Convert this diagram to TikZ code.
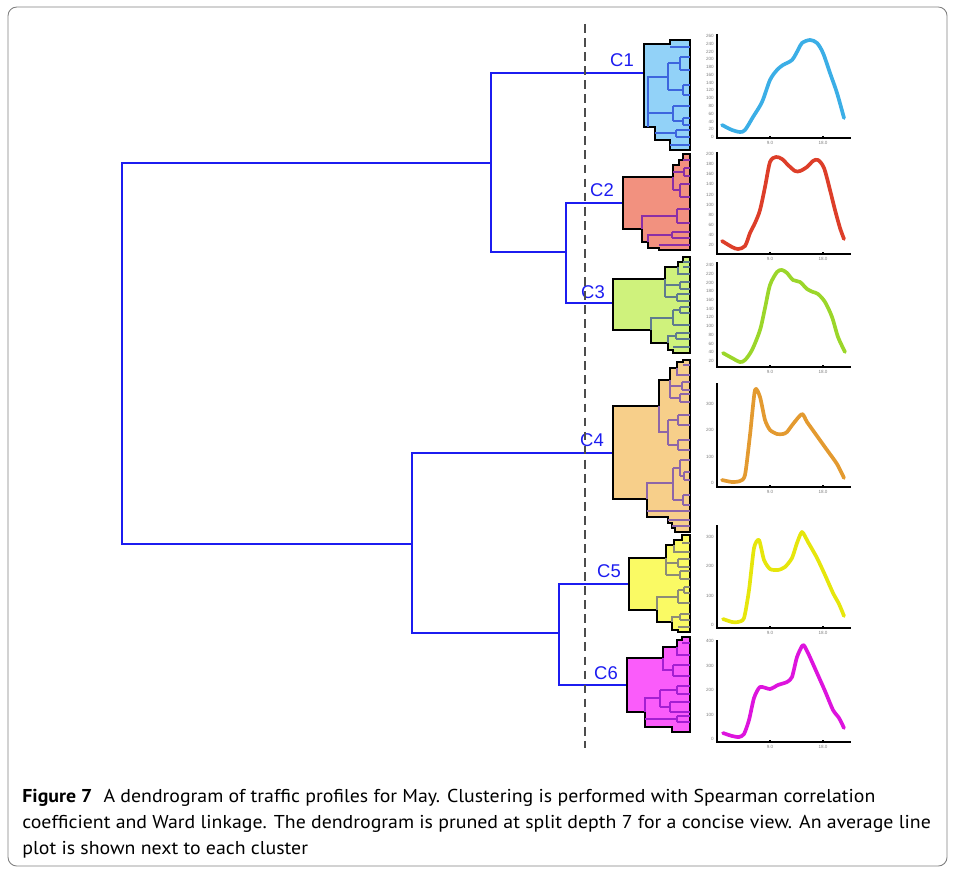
\documentclass[tikz,border=0pt]{standalone}
\usepackage{fontspec}
\newfontfamily\capfont[FakeStretch=1.065]{PT Sans}
\newfontfamily\labfont{Liberation Sans}
\definecolor{dgblue}{HTML}{1C1CF0}
\definecolor{c1fill}{HTML}{92D2F8}\definecolor{c1in}{HTML}{3D66DE}\definecolor{c1line}{HTML}{3BAEE6}
\definecolor{c2fill}{HTML}{F2917F}\definecolor{c2in}{HTML}{8B2FA6}\definecolor{c2line}{HTML}{DD3E29}
\definecolor{c3fill}{HTML}{CFF27C}\definecolor{c3in}{HTML}{5F7C8E}\definecolor{c3line}{HTML}{9BD62A}
\definecolor{c4fill}{HTML}{F7CF8A}\definecolor{c4in}{HTML}{8E66A8}\definecolor{c4line}{HTML}{E39A30}
\definecolor{c5fill}{HTML}{FAFA64}\definecolor{c5in}{HTML}{8D8C77}\definecolor{c5line}{HTML}{E6E60C}
\definecolor{c6fill}{HTML}{FA5CFA}\definecolor{c6in}{HTML}{A41FD2}\definecolor{c6line}{HTML}{DD14DD}

\begin{document}
\begin{tikzpicture}[
        x=0.02cm, y=-0.02cm,
        link/.style={draw=dgblue, line width=0.9pt},
        outline/.style={draw=black, line width=1.3pt, line join=miter},
        inner/.style={line width=0.7pt},
        curve/.style={line width=2.1pt, line cap=round, line join=round},
        axis/.style={line width=0.6pt},
        ytick/.style={font=\labfont\fontsize{2.6}{3}\selectfont, text=gray, anchor=east, inner sep=0.5pt},
        xtick/.style={font=\labfont\fontsize{2.6}{3}\selectfont, text=gray, anchor=north, inner sep=0.5pt},
        clab/.style={font=\labfont\fontsize{10.5}{12}\selectfont, text=dgblue, inner sep=0pt},
        caption/.style={font=\capfont\fontsize{10.6}{12}\selectfont, anchor=base west, inner sep=0pt}
      ]
        % 画布与外框
        \useasboundingbox (0,0) rectangle (955,871);
        \draw[gray, line width=0.5pt, rounded corners=5pt] (8,7) rectangle (947,866);
        % 各簇的连接点
        \coordinate (c1) at (643,73);
        \coordinate (c2) at (623,203);
        \coordinate (c3) at (613,303);
        \coordinate (c4) at (613,453);
        \coordinate (c5) at (629,584);
        \coordinate (c6) at (626,685);
        % 合并点
        \coordinate (k23) at (566,252);
        \coordinate (k1) at (491,163);
        \coordinate (k56) at (559,633);
        \coordinate (k4) at (412,544);
        \coordinate (k0) at (122,350);
        % 主树状图
        \draw[link] (c2) -| (k23) |- (c3);
        \draw[link] (c1) -| (k1) |- (k23);
        \draw[link] (c5) -| (k56) |- (c6);
        \draw[link] (c4) -| (k4) |- (k56);
        \draw[link] (k1) -| (k0) |- (k4);
        % 簇 C1
        \draw[outline, fill=c1fill] (690,40) -- (670,40) -- (670,44) -- (644,44) -- (644,127) -- (655,127)
          -- (655,140) -- (670,140) -- (670,150) -- (690,150) -- cycle;
        \draw[inner, c1in] (648,127) -- (648,77) -- (668,77) (668,63) -- (668,90)
          (668,63) -- (680,63) (680,57) -- (680,70) (680,57) -- (690,57) (680,70) -- (690,70)
          (668,90) -- (683,90) (683,85) -- (683,95) (683,85) -- (690,85) (683,95) -- (690,95)
          (670,47) -- (690,47) (648,113) -- (673,113) (673,106) -- (673,121) (673,106) -- (690,106)
          (673,121) -- (683,121) (683,118) -- (683,125) (683,118) -- (690,118) (683,125) -- (690,125)
          (655,133) -- (676,133) (676,130) -- (676,137) (676,130) -- (690,130) (676,137) -- (690,137)
          (670,145) -- (690,145);
        % 簇 C2
        \draw[outline, fill=c2fill] (690,154) -- (683,154) -- (683,160) -- (679,160) -- (679,165) -- (673,165)
          -- (673,177) -- (623,177) -- (623,229) -- (642,229) -- (642,242) -- (648,242) -- (648,248)
          -- (659,248) -- (659,250) -- (690,250) -- cycle;
        \draw[inner, c2in] (673,177) -- (673,190)
          (673,172) -- (684,172) (684,168) -- (684,176) (684,168) -- (690,168) (684,176) -- (690,176)
          (673,190) -- (680,190) (680,184) -- (680,197) (680,184) -- (690,184) (680,197) -- (690,197)
          (642,229) -- (642,216) -- (677,216) (677,209) -- (677,223) (677,209) -- (690,209) (677,223) -- (690,223)
          (648,242) -- (648,235) -- (672,235) (672,232) -- (672,238) (672,232) -- (690,232) (672,238) -- (690,238)
          (659,245) -- (690,245) (683,160) -- (690,160);
        % 簇 C3
        \draw[outline, fill=c3fill] (690,257) -- (683,257) -- (683,262) -- (678,262) -- (678,267) -- (665,267)
          -- (665,279) -- (613,279) -- (613,330) -- (651,330) -- (651,343) -- (668,343) -- (668,350)
          -- (673,350) -- (673,353) -- (690,353) -- cycle;
        \draw[inner, c3in] (665,279) -- (665,297)
          (665,285) -- (680,285) (680,282) -- (680,289) (680,282) -- (690,282) (680,289) -- (690,289)
          (665,297) -- (677,297) (677,294) -- (677,301) (677,294) -- (690,294) (677,301) -- (690,301)
          (678,267) -- (678,274) -- (690,274) (683,262) -- (690,262) (683,267) -- (690,267)
          (651,330) -- (651,318) -- (673,318) (673,310) -- (673,325) (673,310) -- (680,310)
          (680,307) -- (680,313) (680,307) -- (690,307) (680,313) -- (690,313) (673,325) -- (690,325)
          (668,343) -- (668,336) -- (676,336) (676,333) -- (676,339) (676,333) -- (690,333) (676,339) -- (690,339)
          (673,347) -- (690,347);
        % 簇 C4
        \draw[outline, fill=c4fill] (690,360) -- (683,360) -- (683,362) -- (677,362) -- (677,368) -- (670,368)
          -- (670,380) -- (659,380) -- (659,406) -- (613,406) -- (613,499) -- (647,499) -- (647,517)
          -- (668,517) -- (668,523) -- (672,523) -- (672,528) -- (675,528) -- (675,532) -- (690,532) -- cycle;
        \draw[inner, c4in] (670,380) -- (670,398)
          (670,386) -- (682,386) (682,382) -- (682,390) (682,382) -- (690,382) (682,390) -- (690,390)
          (670,398) -- (680,398) (680,394) -- (680,402) (680,394) -- (690,394) (680,402) -- (690,402)
          (677,368) -- (677,375) -- (690,375) (683,365) -- (690,365)
          (659,406) -- (659,432) -- (668,432) (668,420) -- (668,445)
          (668,420) -- (678,420) (678,415) -- (678,425) (678,415) -- (690,415) (678,425) -- (690,425)
          (668,445) -- (678,445) (678,440) -- (678,450) (678,440) -- (690,440) (678,450) -- (690,450)
          (647,499) -- (647,483) -- (673,483) (673,468) -- (673,500)
          (673,468) -- (680,468) (680,460) -- (680,476) (680,460) -- (690,460) (680,476) -- (684,476)
          (684,472) -- (684,480) (684,472) -- (690,472) (684,480) -- (690,480)
          (673,500) -- (683,500) (683,495) -- (683,505) (683,495) -- (690,495) (683,505) -- (690,505)
          (647,511) -- (690,511) (668,520) -- (690,520) (672,526) -- (690,526);
        % 簇 C5
        \draw[outline, fill=c5fill] (690,535) -- (682,535) -- (682,540) -- (674,540) -- (674,545) -- (666,545)
          -- (666,558) -- (629,558) -- (629,610) -- (657,610) -- (657,622) -- (672,622) -- (672,630)
          -- (678,630) -- (678,632) -- (690,632) -- cycle;
        \draw[inner, c5in] (666,558) -- (666,575)
          (666,563) -- (678,563) (678,559) -- (678,567) (678,559) -- (690,559) (678,567) -- (690,567)
          (666,575) -- (680,575) (680,571) -- (680,579) (680,571) -- (690,571) (680,579) -- (690,579)
          (674,545) -- (674,552) -- (690,552) (682,543) -- (690,543)
          (657,610) -- (657,597) -- (678,597) (678,590) -- (678,603) (678,590) -- (684,590)
          (684,587) -- (684,593) (684,587) -- (690,587) (684,593) -- (690,593) (678,603) -- (690,603)
          (672,622) -- (672,617) -- (680,617) (680,614) -- (680,620) (680,614) -- (690,614) (680,620) -- (690,620)
          (678,627) -- (690,627);
        % 簇 C6
        \draw[outline, fill=c6fill] (690,637) -- (682,637) -- (682,640) -- (677,640) -- (677,647) -- (663,647)
          -- (663,658) -- (627,658) -- (627,712) -- (645,712) -- (645,727) -- (672,727) -- (672,732)
          -- (690,732) -- cycle;
        \draw[inner, c6in] (663,658) -- (663,670) -- (673,670) (673,665) -- (673,676)
          (673,665) -- (690,665) (673,676) -- (690,676)
          (677,647) -- (677,655) -- (690,655) (682,643) -- (690,643)
          (645,712) -- (645,698) -- (660,698) (660,690) -- (660,707)
          (660,690) -- (677,690) (677,686) -- (677,694) (677,686) -- (690,686) (677,694) -- (690,694)
          (660,707) -- (670,707) (670,702) -- (670,712) (670,702) -- (690,702) (670,712) -- (690,712)
          (645,719) -- (677,719) (677,716) -- (677,722) (677,716) -- (690,716) (677,722) -- (690,722);
        % 簇标签
        \node[clab] (lc1) at (622,60) {C1};
        \node[clab] (lc2) at (602,190) {C2};
        \node[clab] (lc3) at (593,292) {C3};
        \node[clab] (lc4) at (592,440) {C4};
        \node[clab] (lc5) at (609,571) {C5};
        \node[clab] (lc6) at (606,673) {C6};
        % 截断虚线
        \coordinate (cutA) at (585,24);
        \coordinate (cutB) at (585,748);
        \draw[black!70, line width=0.9pt, dash pattern=on 5pt off 3pt] (cutA) -- (cutB);
        % C1 平均曲线
        \draw[axis] (717,34) -- (717,138) -- (851,138) (770,136) -- (770,138) (823,136) -- (823,138);
        \foreach \v [count=\i from 0] in {0,20,...,260}
          \node[ytick] (ya-\i) at (715,{137-7.77*\i}) {\v};
        \node[xtick] (xa-1) at (770,140) {9.0};
        \node[xtick] (xa-2) at (823,140) {18.0};
        \draw[curve, c1line] plot[smooth, tension=0.5] coordinates {(722,125) (732,130) (740,132) (745,130)
          (753,117) (762,102) (770,80) (777,70) (783,65) (792,60) (798,50) (802,43) (810,40) (817,43)
          (823,53) (830,73) (837,93) (844,118)};
        % C2 平均曲线
        \draw[axis] (717,152) -- (717,254) -- (851,254) (770,252) -- (770,254) (823,252) -- (823,254);
        \foreach \v [count=\i from 0] in {20,40,...,200}
          \node[ytick] (yb-\i) at (715,{245-10.1*\i}) {\v};
        \node[xtick] (xb-1) at (770,256) {9.0};
        \node[xtick] (xb-2) at (823,256) {18.0};
        \draw[curve, c2line] plot[smooth, tension=0.5] coordinates {(722,241) (732,247) (738,249) (745,246)
          (750,233) (755,223) (760,210) (765,187) (770,162) (776,157) (782,159) (788,165) (795,171)
          (800,171) (807,167) (813,161) (818,160) (824,168) (830,190) (835,210) (840,228) (844,239)};
        % C3 平均曲线
        \draw[axis] (717,262) -- (717,367) -- (851,367) (770,365) -- (770,367) (823,365) -- (823,367);
        \foreach \v [count=\i from 0] in {20,40,...,240}
          \node[ytick] (yc-\i) at (715,{361-8.73*\i}) {\v};
        \node[xtick] (xc-1) at (770,369) {9.0};
        \node[xtick] (xc-2) at (823,369) {18.0};
        \draw[curve, c3line] plot[smooth, tension=0.5] coordinates {(723,353) (732,358) (740,362) (745,360)
          (752,350) (760,330) (765,308) (770,285) (777,272) (782,270) (787,273) (793,280) (800,282)
          (807,289) (813,292) (818,294) (825,302) (832,317) (838,337) (845,352)};
        % C4 平均曲线
        \draw[axis] (717,383) -- (717,487) -- (851,487) (770,485) -- (770,487) (823,485) -- (823,487);
        \foreach \v [count=\i from 0] in {0,100,...,300}
          \node[ytick] (yd-\i) at (715,{483-26.5*\i}) {\v};
        \node[xtick] (xd-1) at (770,489) {9.0};
        \node[xtick] (xd-2) at (823,489) {18.0};
        \draw[curve, c4line] plot[smooth, tension=0.4] coordinates {(722,480) (732,482) (740,481) (745,475)
          (750,435) (755,390) (760,397) (765,420) (770,430) (777,434) (783,434) (787,432) (793,424)
          (802,414) (807,422) (817,436) (827,450) (837,464) (844,478)};
        % C5 平均曲线
        \draw[axis] (717,525) -- (717,628) -- (851,628) (770,626) -- (770,628) (823,626) -- (823,628);
        \foreach \v [count=\i from 0] in {0,100,...,300}
          \node[ytick] (ye-\i) at (715,{625-29.3*\i}) {\v};
        \node[xtick] (xe-1) at (770,630) {9.0};
        \node[xtick] (xe-2) at (823,630) {18.0};
        \draw[curve, c5line] plot[smooth, tension=0.4] coordinates {(723,619) (732,622) (738,622) (744,618)
          (749,590) (754,548) (759,540) (764,560) (770,569) (778,570) (785,567) (792,558) (797,543)
          (802,532) (808,542) (817,558) (825,575) (833,593) (839,604) (844,616)};
        % C6 平均曲线
        \draw[axis] (717,640) -- (717,742) -- (851,742) (770,740) -- (770,742) (823,740) -- (823,742);
        \foreach \v [count=\i from 0] in {0,100,...,400}
          \node[ytick] (yf-\i) at (715,{739-24.5*\i}) {\v};
        \node[xtick] (xf-1) at (770,744) {9.0};
        \node[xtick] (xf-2) at (823,744) {18.0};
        \draw[curve, c6line] plot[smooth, tension=0.4] coordinates {(723,733) (732,736) (739,737) (744,734)
          (749,720) (754,698) (760,687) (770,689) (778,685) (787,682) (792,677) (797,657) (803,645)
          (808,653) (817,673) (825,691) (833,710) (839,718) (844,728)};
        % 图注
        \node[caption] (cap1) at (22,802) {\textbf{Figure 7}\hspace{0.6em}A dendrogram of traffic profiles for May. Clustering is performed with Spearman correlation};
        \node[caption] (cap2) at (22,828) {coefficient and Ward linkage. The dendrogram is pruned at split depth 7 for a concise view. An average line};
        \node[caption] (cap3) at (22,854) {plot is shown next to each cluster};
      \end{tikzpicture}
\end{document}
